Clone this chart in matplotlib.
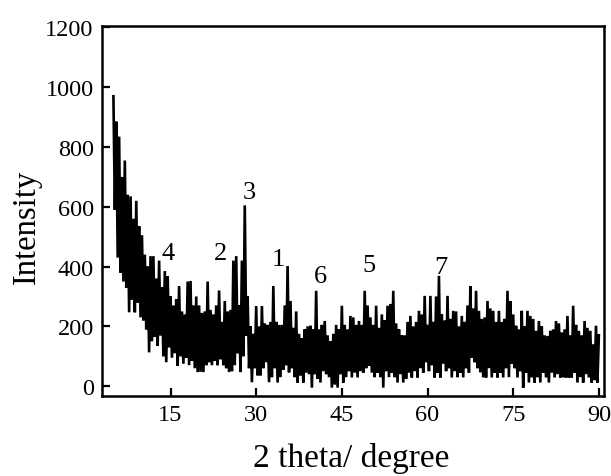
import numpy as np
import matplotlib
matplotlib.use('Agg')
import matplotlib.pyplot as plt

plt.rcParams['font.family'] = ['Liberation Serif', 'DejaVu Serif']

# upper and lower edge of the noisy trace, read every 0.5 degree from 5 to 90
hi = [970, 885, 835, 700, 755, 640, 635, 560, 620, 535,
      505, 440, 400, 435, 435, 360, 420, 330, 385, 368,
      300, 270, 290, 335, 250, 240, 350, 352, 270, 300,
      270, 245, 250, 350, 255, 240, 270, 320, 215, 285,
      250, 255, 420, 435, 270, 420, 605, 300, 200, 175,
      268, 200, 268, 210, 205, 215, 335, 215, 205, 205,
      270, 402, 285, 195, 250, 175, 160, 190, 200, 202,
      190, 319, 190, 205, 218, 170, 150, 175, 205, 190,
      269, 205, 190, 235, 230, 205, 218, 205, 319, 270,
      230, 205, 269, 195, 240, 220, 269, 275, 319, 210,
      190, 170, 170, 215, 235, 200, 215, 252, 240, 302,
      205, 302, 215, 300, 369, 240, 220, 302, 225, 252,
      250, 200, 235, 215, 270, 335, 260, 319, 252, 225,
      230, 285, 260, 252, 215, 252, 215, 225, 319, 285,
      240, 202, 190, 252, 200, 252, 235, 225, 185, 218,
      200, 170, 168, 185, 190, 218, 210, 180, 190, 235,
      170, 269, 205, 185, 170, 218, 195, 185, 140, 202,
      170]
lo = [590, 430, 380, 350, 330, 247, 290, 247, 280, 230,
      220, 190, 113, 150, 165, 135, 170, 100, 80, 130,
      95, 110, 68, 100, 75, 95, 70, 85, 60, 47,
      48, 47, 70, 80, 70, 85, 70, 90, 70, 60,
      47, 50, 70, 110, 47, 100, 168, 60, 13, 60,
      36, 36, 60, 80, 13, 30, 60, 12, 30, 55,
      70, 46, 60, 30, 12, 35, 12, 45, 40, -5,
      40, 25, 12, 50, 40, 30, -5, 5, -5, 40,
      12, 30, 50, 29, 45, 29, 50, 45, 60, 68,
      45, 30, 45, 30, -5, 50, 30, 45, 30, 12,
      40, 12, 25, 45, 29, 50, 29, 60, 45, 80,
      50, 70, 29, 45, 29, 75, 50, 60, 29, 50,
      30, 45, 29, 60, 45, 95, 80, 60, 46, 29,
      29, 60, 29, 45, 29, 45, 29, 60, 30, 75,
      60, 29, 50, -5, 45, 12, 29, 12, 30, 12,
      45, 29, 12, 45, 29, 40, 29, 29, 29, 29,
      29, 45, 12, 30, 12, 40, 29, 12, 20, 12,
      50]

peak_names = ['4', '2', '3', '1', '6', '5', '7']
peak_x = [14.5, 23.8, 28.8, 33.9, 41.3, 49.8, 62.4]
peak_y = [445, 447, 650, 425, 367, 405, 400]

x_hi = np.linspace(5, 90, len(hi))
x_lo = x_hi + 0.25
x = np.column_stack((x_hi, x_lo)).ravel()
y = np.column_stack((hi, lo)).ravel()

fig = plt.figure(figsize=(6.11, 4.77), dpi=100)
ax = fig.add_axes([102 / 611, 1 - 397 / 477, 502 / 611, 370 / 477])

ax.plot(x[:-1], y[:-1], color='black', lw=1.9, solid_joinstyle='bevel')

for name, px, py in zip(peak_names, peak_x, peak_y):
    ax.text(px, py, name, fontsize=19, ha='center', va='center')

ax.set_xlim(3, 90.9)
ax.set_ylim(-33, 1205)
ax.set_xticks([15, 30, 45, 60, 75, 90])
ax.set_yticks([0, 200, 400, 600, 800, 1000, 1200])
ax.tick_params(direction='in', length=6, width=1.6, labelsize=17.5, pad=6)
for s in ax.spines.values():
    s.set_linewidth(1.8)

fig.text(351 / 611, 1 - 467 / 477, '2 theta/ degree', fontsize=24, ha='center', va='baseline')
fig.text(27 / 611, 1 - 227 / 477, 'Intensity', fontsize=23.5, rotation=90, ha='center', va='center')

fig.savefig('out.png', dpi=100)
